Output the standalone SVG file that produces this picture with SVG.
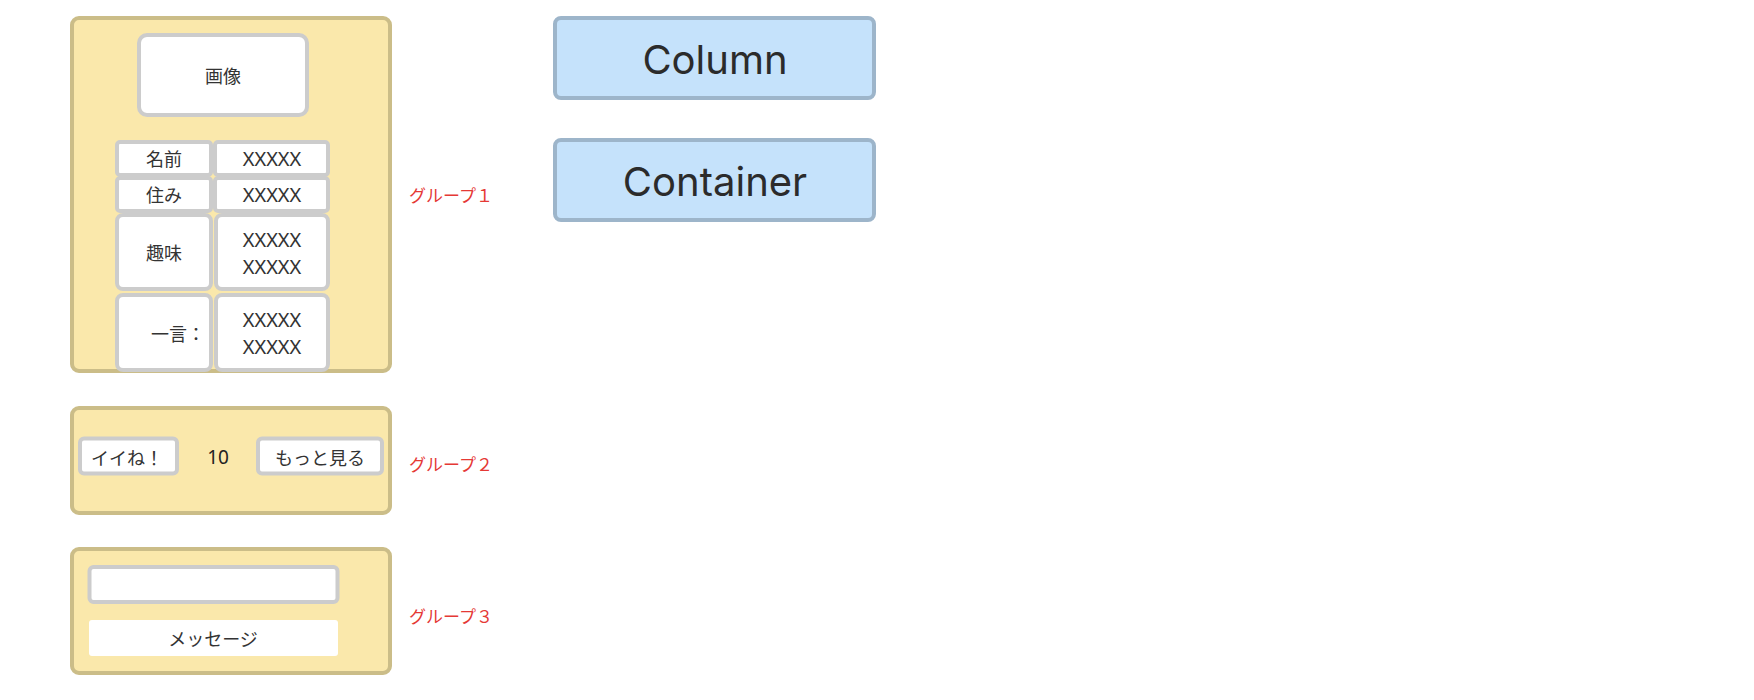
<svg xmlns="http://www.w3.org/2000/svg" width="1754" height="700" viewBox="0 0 1754 700">
<style>
.grp{fill:#fae8ab;stroke:#cbbd88;stroke-width:4}
.cell{fill:#ffffff;stroke:#cccccc;stroke-width:4}
.blue{fill:#c5e2fb;stroke:#9db5ca;stroke-width:4}
.t{font-family:"Noto Sans CJK JP","Noto Sans",sans-serif;font-size:18px;fill:#333333;text-anchor:middle;dominant-baseline:central}
.x{font-family:"Noto Sans","Noto Sans CJK JP",sans-serif;font-size:20px;fill:#333333;text-anchor:middle;dominant-baseline:central}
.lbl{font-family:"Noto Sans CJK JP","Noto Sans",sans-serif;font-size:17px;fill:#e53935;dominant-baseline:central}
.big{font-family:Inter,"Liberation Sans",sans-serif;font-size:40px;fill:#2b2b2b;text-anchor:middle;dominant-baseline:central}
</style>
<rect width="1754" height="700" fill="#ffffff"/>
<g id="group1">
<rect class="grp" x="72" y="18" width="318" height="353" rx="7"/>
<g id="image"><rect class="cell" x="139" y="35" width="168" height="80" rx="8"/><text class="t" x="223" y="75">画像</text></g>
<g id="row-name">
<rect class="cell" x="117" y="142" width="94" height="33" rx="3"/><text class="t" x="164" y="158">名前</text>
<rect class="cell" x="215" y="142" width="113" height="33" rx="3"/><text class="x" x="272" y="158">XXXXX</text>
</g>
<g id="row-address">
<rect class="cell" x="117" y="178" width="94" height="33" rx="3"/><text class="t" x="164" y="194">住み</text>
<rect class="cell" x="215" y="178" width="113" height="33" rx="3"/><text class="x" x="272" y="194">XXXXX</text>
</g>
<g id="row-hobby">
<rect class="cell" x="117" y="215" width="94" height="74" rx="6"/><text class="t" x="164" y="252">趣味</text>
<rect class="cell" x="216" y="215" width="112" height="74" rx="6"/><text class="x" x="272" y="239">XXXXX</text><text class="x" x="272" y="266">XXXXX</text>
</g>
<g id="row-comment">
<rect class="cell" x="117" y="295" width="94" height="75" rx="6"/><text class="t" x="151" y="333" style="text-anchor:start">一言：</text>
<rect class="cell" x="216" y="295" width="112" height="75" rx="6"/><text class="x" x="272" y="319">XXXXX</text><text class="x" x="272" y="346">XXXXX</text>
</g>
</g>
<g id="label1"><text class="lbl" x="409" y="194">グループ１</text></g>
<g id="group2">
<rect class="grp" x="72" y="408" width="318" height="105" rx="7"/>
<g id="like-btn"><rect class="cell" x="80" y="438.5" width="97" height="35" rx="4"/><text class="t" x="127" y="457">イイね！</text></g>
<text class="x" x="218" y="457" style="fill:#222222;font-size:19px">10</text>
<g id="more-btn"><rect class="cell" x="258" y="438.5" width="124" height="35" rx="4"/><text class="t" x="320" y="457">もっと見る</text></g>
</g>
<g id="label2"><text class="lbl" x="409" y="463">グループ２</text></g>
<g id="group3">
<rect class="grp" x="72" y="549" width="318" height="124" rx="7"/>
<g id="input"><rect class="cell" x="89.5" y="567" width="248" height="35" rx="4"/></g>
<g id="message-btn"><rect x="89" y="620" width="249" height="36" rx="3" fill="#ffffff"/><text class="t" x="213" y="638">メッセージ</text></g>
</g>
<g id="label3"><text class="lbl" x="409" y="615">グループ３</text></g>
<g id="legend-column"><rect class="blue" x="555" y="18" width="319" height="80" rx="6"/><text class="big" x="715" y="59">Column</text></g>
<g id="legend-container"><rect class="blue" x="555" y="140" width="319" height="80" rx="6"/><text class="big" x="715" y="181">Container</text></g>
<g id="connectors"></g>
</svg>
